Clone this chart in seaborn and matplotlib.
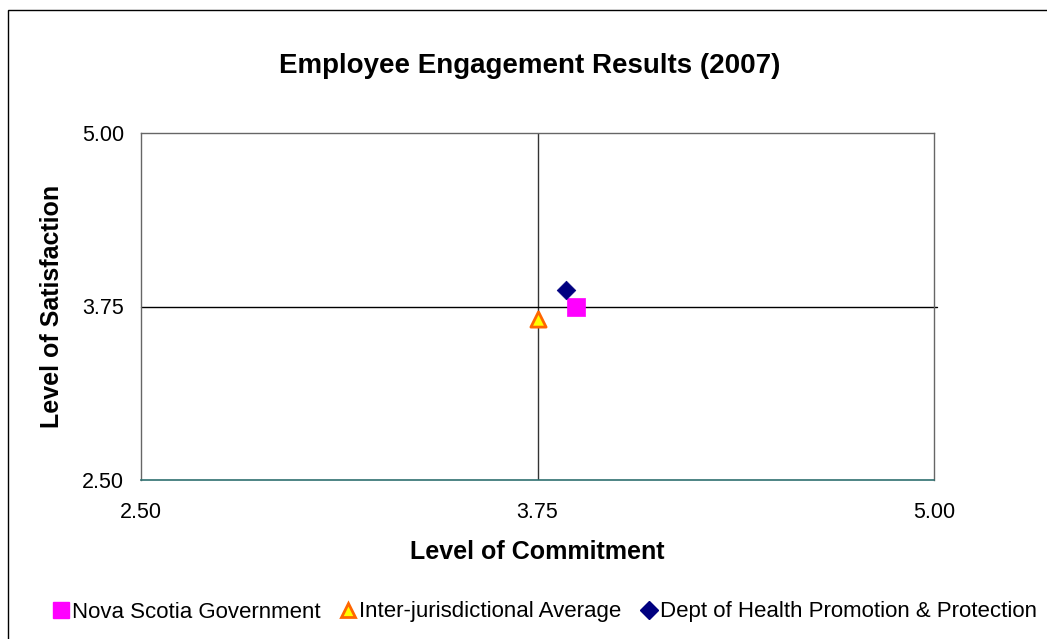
import matplotlib
matplotlib.use("Agg")
import matplotlib.pyplot as plt
import seaborn as sns
import pandas as pd
from matplotlib.lines import Line2D
from matplotlib.patches import Rectangle

series = ["Nova Scotia Government", "Inter-jurisdictional Average", "Dept of Health Promotion & Protection"]
commitment = [3.87, 3.75, 3.84]
satisfaction = [3.75, 3.66, 3.87]
ticks = [2.50, 3.75, 5.00]
tick_labels = ["2.50", "3.75", "5.00"]

df = pd.DataFrame({"series": series, "commitment": commitment, "satisfaction": satisfaction})

sns.set_theme(style="white")
plt.rcParams['font.family'] = ['Liberation Sans', 'DejaVu Sans']
plt.rcParams['text.color'] = 'black'
plt.rcParams['axes.labelcolor'] = 'black'
plt.rcParams['xtick.color'] = 'black'
plt.rcParams['ytick.color'] = 'black'

fig = plt.figure(figsize=(10.47, 6.39), dpi=100)
ax = fig.add_axes([141/1047, 1-480/639, (934-141)/1047, (480-133)/639])

# figure border
fig.patches.append(Rectangle((8/1047, -0.1), 1.2, 1 - 10/639 + 0.1, transform=fig.transFigure,
                             fill=False, edgecolor='black', linewidth=1.0))

ax.set_xlim(2.5, 5.0)
ax.set_ylim(2.5, 5.0)

# crosshair lines
ax.axvline(3.75, color='#333333', linewidth=1.0, zorder=1)
ax.plot([2.5, 5.01], [3.75, 3.75], color='black', linewidth=1.0, zorder=1, clip_on=False)

palette = {series[0]: '#FF00FF', series[1]: '#FFFF00', series[2]: '#000080'}
markers = {series[0]: 's', series[1]: '^', series[2]: 'D'}
edges = ['#FF00FF', '#FF6600', '#000080']
sizes = [150, 120, 90]
for i, s in enumerate(series):
    sub = df[df["series"] == s]
    sns.scatterplot(data=sub, x="commitment", y="satisfaction", ax=ax, color=palette[s],
                    marker=markers[s], s=sizes[i], edgecolor=edges[i], linewidth=2 if i == 1 else 0.5,
                    legend=False, zorder=3)

ax.set_xticks(ticks)
ax.set_xticklabels(tick_labels, fontsize=15.5)
ax.set_yticks(ticks)
ax.set_yticklabels(tick_labels, fontsize=15.5)
ax.tick_params(axis='x', pad=16, length=0)
ax.tick_params(axis='y', pad=12, length=0)

for sp in ['left', 'top', 'right']:
    ax.spines[sp].set_color('#666666')
    ax.spines[sp].set_linewidth(1.0)
ax.spines['bottom'].set_color('#2F7070')
ax.spines['bottom'].set_linewidth(1.2)

ax.set_xlabel("Level of Commitment", fontsize=18, fontweight='bold', labelpad=12)
ax.set_ylabel("Level of Satisfaction", fontsize=18, fontweight='bold', labelpad=13)
fig.text(530/1047, 1-66/639, "Employee Engagement Results (2007)", fontsize=20, fontweight='bold',
         ha='center', va='center')

handles = [
    Line2D([], [], marker='s', linestyle='', markerfacecolor='#FF00FF', markeredgecolor='#FF00FF', markersize=11),
    Line2D([], [], marker='^', linestyle='', markerfacecolor='#FFFF00', markeredgecolor='#FF6600', markeredgewidth=2, markersize=10),
    Line2D([], [], marker='D', linestyle='', markerfacecolor='#000080', markeredgecolor='#000080', markersize=9),
]
fig.legend(handles, series, loc='center', bbox_to_anchor=(545/1047, 1-612/639), ncol=3, frameon=False,
           fontsize=16, handlelength=0.7, handletextpad=0.15, columnspacing=0.9, borderaxespad=0)

fig.savefig("out.png", dpi=100)
